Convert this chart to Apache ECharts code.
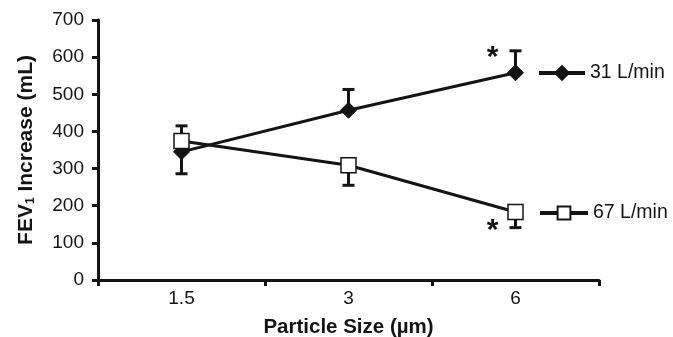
<!DOCTYPE html>
<html><head><meta charset="utf-8">
<script src="https://cdn.jsdelivr.net/npm/echarts@6/dist/echarts.min.js"></script>
<style>html,body{margin:0;padding:0;background:#fff}#c{width:673px;height:337px}</style>
</head><body><div id="c"></div>
<script>
const categories = ['1.5', '3', '6'];
const yTicks = [0, 100, 200, 300, 400, 500, 600, 700];
const seriesNames = ['31 L/min', '67 L/min'];
const flow31 = [345, 457, 558];
const flow67 = [374, 309, 183];
const errEnd31 = [286, 513, 617];
const errEnd67 = [415, 255, 141];
const sigMarks = [{ series: 0, idx: 2, value: 606 }, { series: 1, idx: 2, value: 142 }];

const FONT = 'Liberation Sans, Arial, sans-serif';
const INK = '#141414';

function errData(vals, ends) { return vals.map((v, i) => [i, v, ends[i]]); }

function errRender(params, api) {
  const x = api.value(0);
  const p1 = api.coord([x, api.value(1)]);
  const p2 = api.coord([x, api.value(2)]);
  const cap = 6;
  return {
    type: 'group',
    children: [
      { type: 'line', shape: { x1: p1[0], y1: p1[1], x2: p2[0], y2: p2[1] }, style: { stroke: INK, lineWidth: 3 } },
      { type: 'line', shape: { x1: p2[0] - cap, y1: p2[1], x2: p2[0] + cap, y2: p2[1] }, style: { stroke: INK, lineWidth: 3 } }
    ]
  };
}

function sig(s) {
  return sigMarks.filter(m => m.series === s).map(m => ({
    coord: [m.idx, m.value], symbolSize: 0,
    label: { show: true, formatter: '*', offset: [-23, 3], color: INK, fontSize: 30, fontFamily: FONT, fontWeight: 'bold' }
  }));
}

const chart = echarts.init(document.getElementById('c'));
chart.setOption({
  animation: false,
  backgroundColor: '#fff',
  grid: { left: 98, right: 74, top: 20, bottom: 57, containLabel: false, outerBoundsMode: 'none' },
  legend: [
    { data: [seriesNames[0]], left: 537, top: 63, padding: 0, itemWidth: 46, itemHeight: 17, itemGap: 7,
      lineStyle: { width: 4 },
      textStyle: { color: INK, fontSize: 19.5, fontFamily: FONT } },
    { data: [seriesNames[1]], left: 538, top: 203, padding: 0, itemWidth: 48, itemHeight: 16, itemGap: 1,
      lineStyle: { width: 4 },
      textStyle: { color: INK, fontSize: 19.5, fontFamily: FONT } }
  ],
  xAxis: {
    type: 'category', data: categories, boundaryGap: true,
    name: 'Particle Size (µm)', nameLocation: 'middle', nameGap: 37,
    nameTextStyle: { color: INK, fontSize: 20.5, fontWeight: 'bold', fontFamily: FONT },
    axisLine: { lineStyle: { color: INK, width: 3 } },
    axisTick: { show: true, length: 6, lineStyle: { color: INK, width: 3 } },
    axisLabel: { color: INK, fontSize: 19, fontFamily: FONT, margin: 9 },
    splitLine: { show: false }
  },
  yAxis: {
    type: 'value', min: 0, max: 700, interval: 100,
    name: '{m|FEV}{s|1}{m| Increase (mL)}', nameLocation: 'middle', nameGap: 61, nameRotate: 90,
    nameTextStyle: { rich: {
      m: { color: INK, fontSize: 21, fontWeight: 'bold', fontFamily: FONT },
      s: { color: INK, fontSize: 12, fontWeight: 'bold', fontFamily: FONT, padding: [9, 0, 0, 0] }
    } },
    axisLine: { show: true, onZero: false, lineStyle: { color: INK, width: 3 } },
    axisTick: { show: true, length: 6, lineStyle: { color: INK, width: 3 } },
    axisLabel: { color: INK, fontSize: 19, fontFamily: FONT, margin: 14, formatter: v => yTicks.includes(v) ? String(v) : '' },
    splitLine: { show: false }
  },
  series: [
    { type: 'custom', z: 1, renderItem: errRender, data: errData(flow31, errEnd31), silent: true },
    { type: 'custom', z: 1, renderItem: errRender, data: errData(flow67, errEnd67), silent: true },
    { name: seriesNames[0], type: 'line', z: 3, data: flow31,
      symbol: 'diamond', symbolSize: 16, showAllSymbol: true,
      lineStyle: { color: INK, width: 3 },
      itemStyle: { color: INK, borderColor: INK, borderWidth: 1 },
      markPoint: { data: sig(0) } },
    { name: seriesNames[1], type: 'line', z: 4, data: flow67,
      symbol: 'rect', symbolSize: 15, showAllSymbol: true,
      lineStyle: { color: INK, width: 3 },
      itemStyle: { color: '#fff', borderColor: INK, borderWidth: 1.5 },
      markPoint: { data: sig(1) } }
  ]
});
</script></body></html>
